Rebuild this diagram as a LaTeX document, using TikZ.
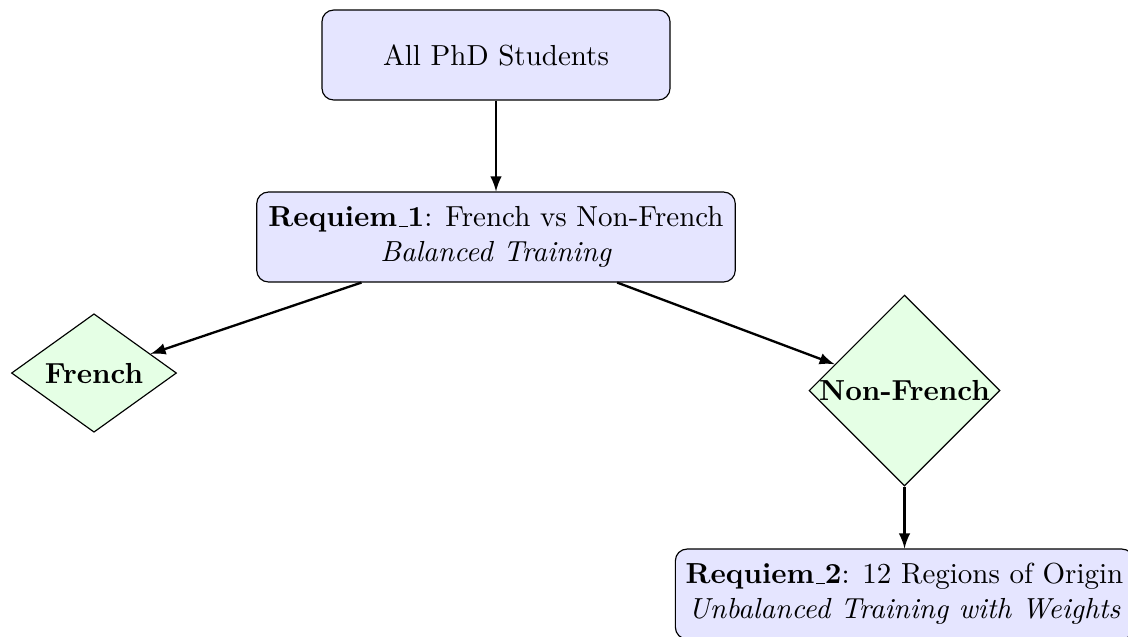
\documentclass[tikz,border=0pt]{standalone}
\usetikzlibrary{shapes.geometric,arrows}
\newcommand\usc{\leavevmode\kern.06em\vbox{\hrule width.3em}}
\begin{document}
\begin{tikzpicture}[x=0.3448pt,y=-0.3448pt,
  box/.style={draw, rounded corners, fill=blue!10, align=center, minimum height=31pt, inner xsep=1pt},
  dia/.style={diamond, draw, fill=green!10, inner sep=0pt, font=\bfseries, minimum width=2cm},
  arr/.style={->, >=latex, thick}]
\useasboundingbox (0,0) rectangle (1128,636);
\node[box, minimum width=120pt] (all) at (496,55) {All PhD Students};
\node[box, minimum width=165pt] (req1) at (496,237) {\textbf{Requiem\usc1}: French vs Non-French\\ \textit{Balanced Training}};
\node[dia] (fr) at (94,373) {French};
\node[dia] (nfr) at (904.5,390.5) {Non-French};
\node[box, minimum width=158pt] (req2) at (904.5,594) {\textbf{Requiem\usc2}: 12 Regions of Origin\\ \textit{Unbalanced Training with Weights}};
\draw[arr] (all) -- (req1);
\draw[arr] (req1) -- (fr);
\draw[arr] (req1) -- (nfr);
\draw[arr] (nfr) -- (req2);
\end{tikzpicture}
\end{document}
